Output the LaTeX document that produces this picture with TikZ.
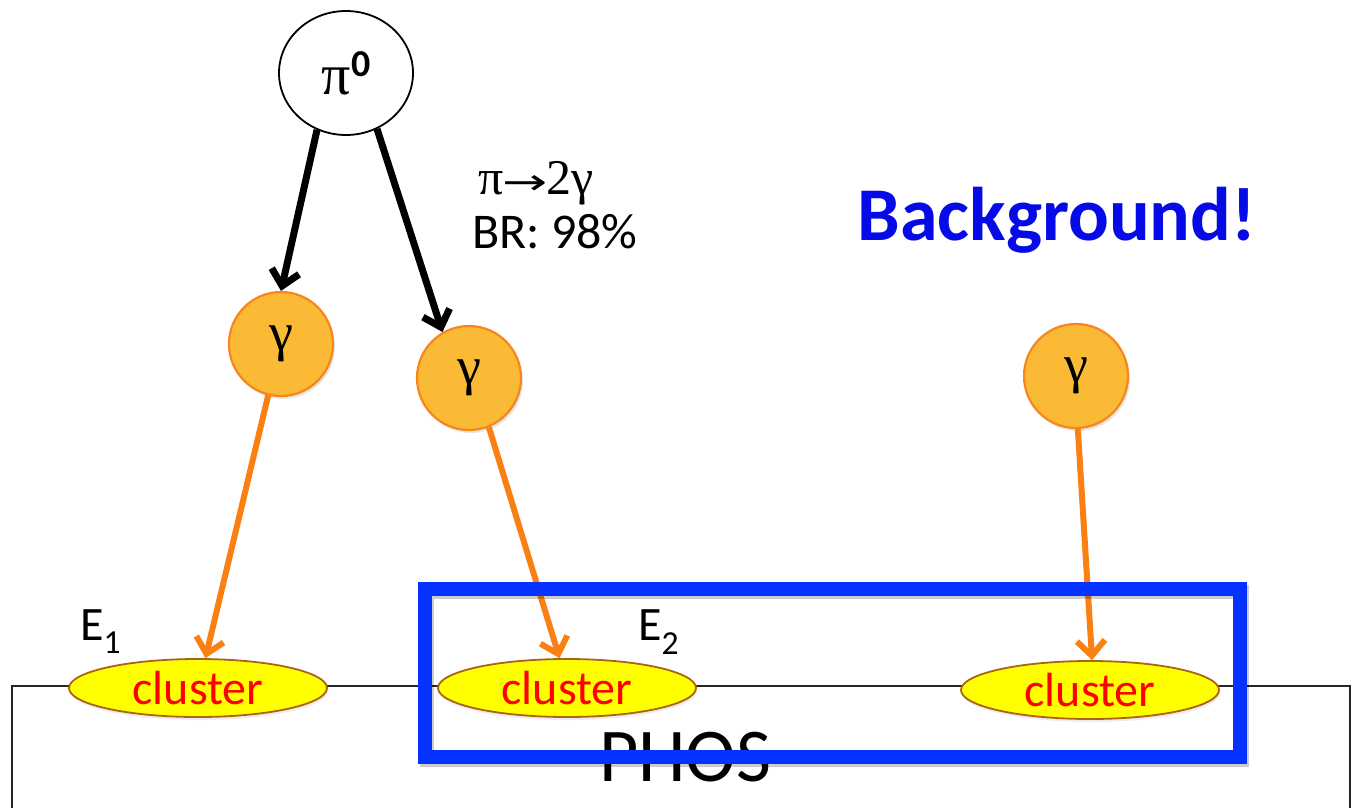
\documentclass[tikz,border=0pt]{standalone}
\usepackage{fontspec}
\setmainfont{Carlito}
\newfontfamily\grk{Liberation Serif}
\newfontfamily\sym{DejaVu Sans}
\usetikzlibrary{shapes.geometric,arrows.meta,shadows}
\definecolor{gfill}{RGB}{250,186,54}
\definecolor{gline}{RGB}{247,134,28}
\definecolor{oarrow}{RGB}{250,128,20}
\definecolor{cfill}{RGB}{255,255,0}
\definecolor{cline}{RGB}{170,100,20}
\definecolor{bbox}{RGB}{5,50,255}
\definecolor{btext}{RGB}{5,10,230}
\begin{document}
\begin{tikzpicture}[x=1pt,y=-1pt,
  pinode/.style={ellipse,draw,line width=1.8pt,fill=white,minimum width=134pt,minimum height=124pt,inner sep=0pt},
  gnode/.style={circle,draw=gline,line width=2.2pt,fill=gfill,minimum size=104pt,inner sep=0pt,font=\grk\fontsize{54}{54}\selectfont,
    drop shadow={shadow xshift=2pt,shadow yshift=-3pt,opacity=0.2}},
  cnode/.style={ellipse,draw=cline,line width=1.8pt,fill=cfill,minimum width=258pt,minimum height=58pt,inner sep=0pt,
    text=red,font=\fontsize{48}{48}\selectfont,
    drop shadow={shadow xshift=1pt,shadow yshift=-3pt,opacity=0.15}},
  barrow/.style={line width=7pt,-{Straight Barb[length=15pt,width=28pt,line width=7pt]}},
  oarr/.style={draw=oarrow,line width=6pt,-{Straight Barb[length=15pt,width=28pt,line width=6pt]}},
  lbl/.style={inner sep=0pt,font=\fontsize{48}{48}\selectfont}
]
\useasboundingbox (0,0) rectangle (1352,808);
% PHOS detector outline
\draw[line width=1.8pt,draw=black!85] (12,830) -- (12,686) -- (1350,686) -- (1350,830);
\node[inner sep=0pt,font=\fontsize{76}{76}\selectfont] (phos) at (685,757) {PHOS};

\node[pinode] (pi) at (346,73) {\fontsize{58}{58}\selectfont{\grk π}\raisebox{18pt}{\fontsize{38}{38}\selectfont\bfseries 0}};

\node[gnode] (g1) at (281,344) {γ};
\node[gnode] (g2) at (469,378) {γ};
\node[gnode] (g3) at (1076,376) {γ};

\node[cnode] (c1) at (198,688) {cluster};
\node[cnode] (c2) at (567,688) {cluster};
\node[cnode] (c3) at (1090,690) {cluster};

\draw[barrow] (pi.243) -- (g1.north);
\draw[barrow] (pi.299) -- (g2.120);

\draw[oarr] (g1.256) -- (c1.76);
\draw[oarr] (g2.292) -- (c2.104);
\draw[oarr] (g3.272) -- (c3.86);

\node[lbl,anchor=west] (e1) at (80,632) {E\textsubscript{1}};
\node[lbl,anchor=west] (e2) at (638,632) {E\textsubscript{2}};

\node[inner sep=0pt,anchor=west,font=\grk\fontsize{50}{50}\selectfont] (dec) at (478,183) {π\kern-1pt\scalebox{1.5}[1]{\sym\fontsize{36}{36}\selectfont →}\kern-1pt2γ};
\node[lbl,anchor=west,font=\fontsize{50}{50}\selectfont] (br) at (472,232) {BR: 98\%};

\node[inner sep=0pt,text=btext,font=\bfseries\fontsize{76}{76}\selectfont] (bgtxt) at (1057,220) {Background!};

% shadow of the blue frame
\draw[black,opacity=0.2,line width=14pt] (426.5,592) rectangle (1242,759.5);
\node[draw=bbox,line width=14pt,minimum width=815.5pt,minimum height=167.5pt,inner sep=0pt] (bg) at (832.25,672.75) {};
\end{tikzpicture}
\end{document}
